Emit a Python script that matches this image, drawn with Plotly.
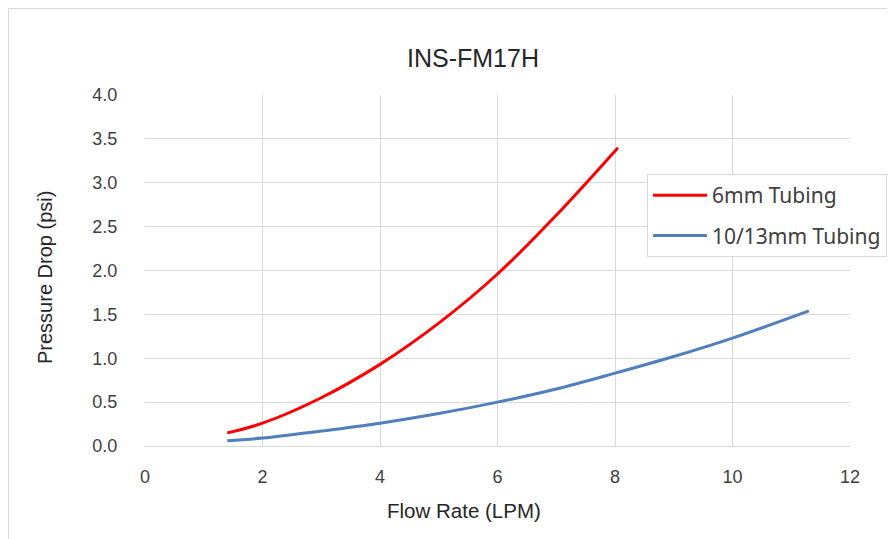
import plotly.graph_objects as go

# Data
red_x = [1.4, 2.0, 3.0, 4.0, 5.0, 6.0, 7.0, 8.05]
red_y = [0.15, 0.26, 0.55, 0.93, 1.40, 1.96, 2.63, 3.40]
blue_x = [1.4, 2.0, 3.0, 4.0, 5.0, 6.0, 7.0, 8.0, 9.0, 10.0, 11.3]
blue_y = [0.06, 0.09, 0.17, 0.26, 0.37, 0.50, 0.65, 0.83, 1.02, 1.23, 1.54]
series_names = ["6mm Tubing", "10/13mm Tubing"]
x_ticks = [0, 2, 4, 6, 8, 10, 12]
y_ticks = [0.0, 0.5, 1.0, 1.5, 2.0, 2.5, 3.0, 3.5, 4.0]

W, H = 895, 539
OFF = 8  # page body margin
# plot area edges in screenshot pixels
L, R, T, B = 145, 850, 95, 446

def px(xp):
    return (xp - L) / (R - L)

def py(yp):
    return (B - yp) / (B - T)

fig = go.Figure()
fig.add_trace(go.Scatter(x=red_x, y=red_y, mode="lines", name=series_names[0],
                         legendgroup="a", line=dict(color="#FF0000", width=3, shape="spline")))
fig.add_trace(go.Scatter(x=blue_x, y=blue_y, mode="lines", name=series_names[1],
                         legendgroup="b", line=dict(color="#4F7FBC", width=3, shape="spline")))

sans = "Liberation Sans, Arial, sans-serif"
axis_font = dict(family=sans, size=18, color="#404040")

fig.update_layout(
    width=W, height=H,
    margin=dict(l=L - OFF, r=W - (R - OFF), t=T - OFF, b=H - (B - OFF)),
    paper_bgcolor="white", plot_bgcolor="white",
    title=dict(text="INS-FM17H", x=(473 - OFF) / W, xref="container", xanchor="center",
               y=1 - (58.5 - OFF) / H, yref="container", yanchor="middle",
               font=dict(family=sans, size=25, color="#262626")),
    xaxis=dict(range=[0, 12], tickvals=x_ticks, ticktext=[str(v) for v in x_ticks],
               showgrid=True, gridcolor="#D9D9D9", gridwidth=1, zeroline=False,
               showline=True, linecolor="#D9D9D9", mirror=False,
               ticks="outside", ticklen=14, tickcolor="rgba(0,0,0,0)",
               tickfont=axis_font, fixedrange=True),
    yaxis=dict(range=[0, 4], tickvals=y_ticks, ticktext=[f"{v:.1f}" for v in y_ticks],
               showgrid=True, gridcolor="#D9D9D9", gridwidth=1, zeroline=False,
               showline=False, ticks="outside", ticklen=23, tickcolor="rgba(0,0,0,0)",
               tickfont=axis_font, fixedrange=True),
    legend=dict(x=px(647), y=py(174), xanchor="left", yanchor="top",
                bgcolor="white", bordercolor="#D9D9D9", borderwidth=1,
                traceorder="grouped", tracegroupgap=10, itemwidth=54,
                font=dict(family="Noto Sans, Open Sans, sans-serif", size=21, color="#404040")),
    showlegend=True,
    annotations=[
        dict(text="Flow Rate (LPM)", x=px(464), y=py(510), xref="paper", yref="paper",
             xanchor="center", yanchor="middle", showarrow=False,
             font=dict(family=sans, size=20.5, color="#262626")),
        dict(text="Pressure Drop (psi)", x=px(45), y=py(277), xref="paper", yref="paper",
             xanchor="center", yanchor="middle", showarrow=False, textangle=-90,
             font=dict(family=sans, size=20, color="#262626")),
    ],
    shapes=[
        dict(type="rect", xref="paper", yref="paper",
             x0=px(OFF + 0.5), x1=px(910), y0=py(560), y1=py(OFF + 0.5),
             line=dict(color="#D9D9D9", width=1), fillcolor="rgba(0,0,0,0)", layer="below"),
    ],
)

fig.write_html("out.html")
